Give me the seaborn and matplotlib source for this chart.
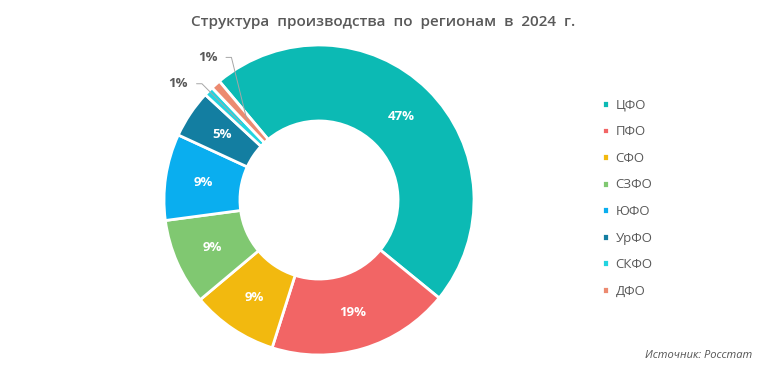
import numpy as np
import matplotlib
matplotlib.use("Agg")
import matplotlib.pyplot as plt
import seaborn as sns

# data
regions = ["ЦФО", "ПФО", "СФО", "СЗФО", "ЮФО", "УрФО", "СКФО", "ДФО"]
shares = [47, 19, 9, 9, 9, 5, 1, 1]
colors = ["#0cbab4", "#f26565", "#f2b90f", "#80c871", "#0aaeef", "#137ea1", "#22d4e0", "#ec8a70"]

sns.set_theme(style="white")
plt.rcParams["font.family"] = ["Open Sans", "DejaVu Sans"]

fig = plt.figure(figsize=(7.64, 3.70), dpi=100)
ax = fig.add_axes([164 / 764, 15 / 370, 310 / 764, 310 / 370])

def pct_label(p):
    return f"{p:.0f}%" if p >= 2 else ""

wedges, _, autotexts = ax.pie(
    shares, colors=colors, startangle=130, counterclock=False,
    radius=1, autopct=pct_label, pctdistance=0.755,
    wedgeprops=dict(width=0.49, edgecolor="white", linewidth=2),
    textprops=dict(color="white", fontsize=9.5, fontweight="bold"),
)
ax.set_xlim(-1, 1)
ax.set_ylim(-1, 1)
ax.set_aspect("equal")
ax.axis("off")

# outside labels for the small slices
txt_col = "#595959"
line_col = "#a6a6a6"
small = [(7, (-0.60, 0.92)), (6, (-0.79, 0.75))]
for i, (hx, hy) in small:
    w = wedges[i]
    mid = np.deg2rad((w.theta1 + w.theta2) / 2)
    px, py = 0.70 * np.cos(mid), 0.70 * np.sin(mid)
    ax.plot([px, hx + 0.035, hx], [py, hy, hy], color=line_col, lw=0.7, clip_on=False)
    ax.text(hx - 0.055, hy, f"{shares[i]}%", ha="right", va="center",
            fontsize=9.5, fontweight="bold", color=txt_col)

fig.text(383 / 764, 1 - 22 / 370, "Структура  производства  по  регионам  в  2024  г.",
         ha="center", va="center", fontsize=11, fontweight="semibold", color=txt_col)

leg = fig.legend(wedges, regions, loc="upper left", bbox_to_anchor=(595 / 764, 1 - 92 / 370),
                 frameon=False, fontsize=9.5, handlelength=0.55, handleheight=0.55,
                 handletextpad=0.5, labelspacing=1.03, borderpad=0)
for t in leg.get_texts():
    t.set_color(txt_col)

fig.text(752 / 764, 1 - 356 / 370, "Источник: Росстат", ha="right", va="center",
         fontsize=8, style="italic", color="#555555")

fig.savefig("out.png", dpi=100)
